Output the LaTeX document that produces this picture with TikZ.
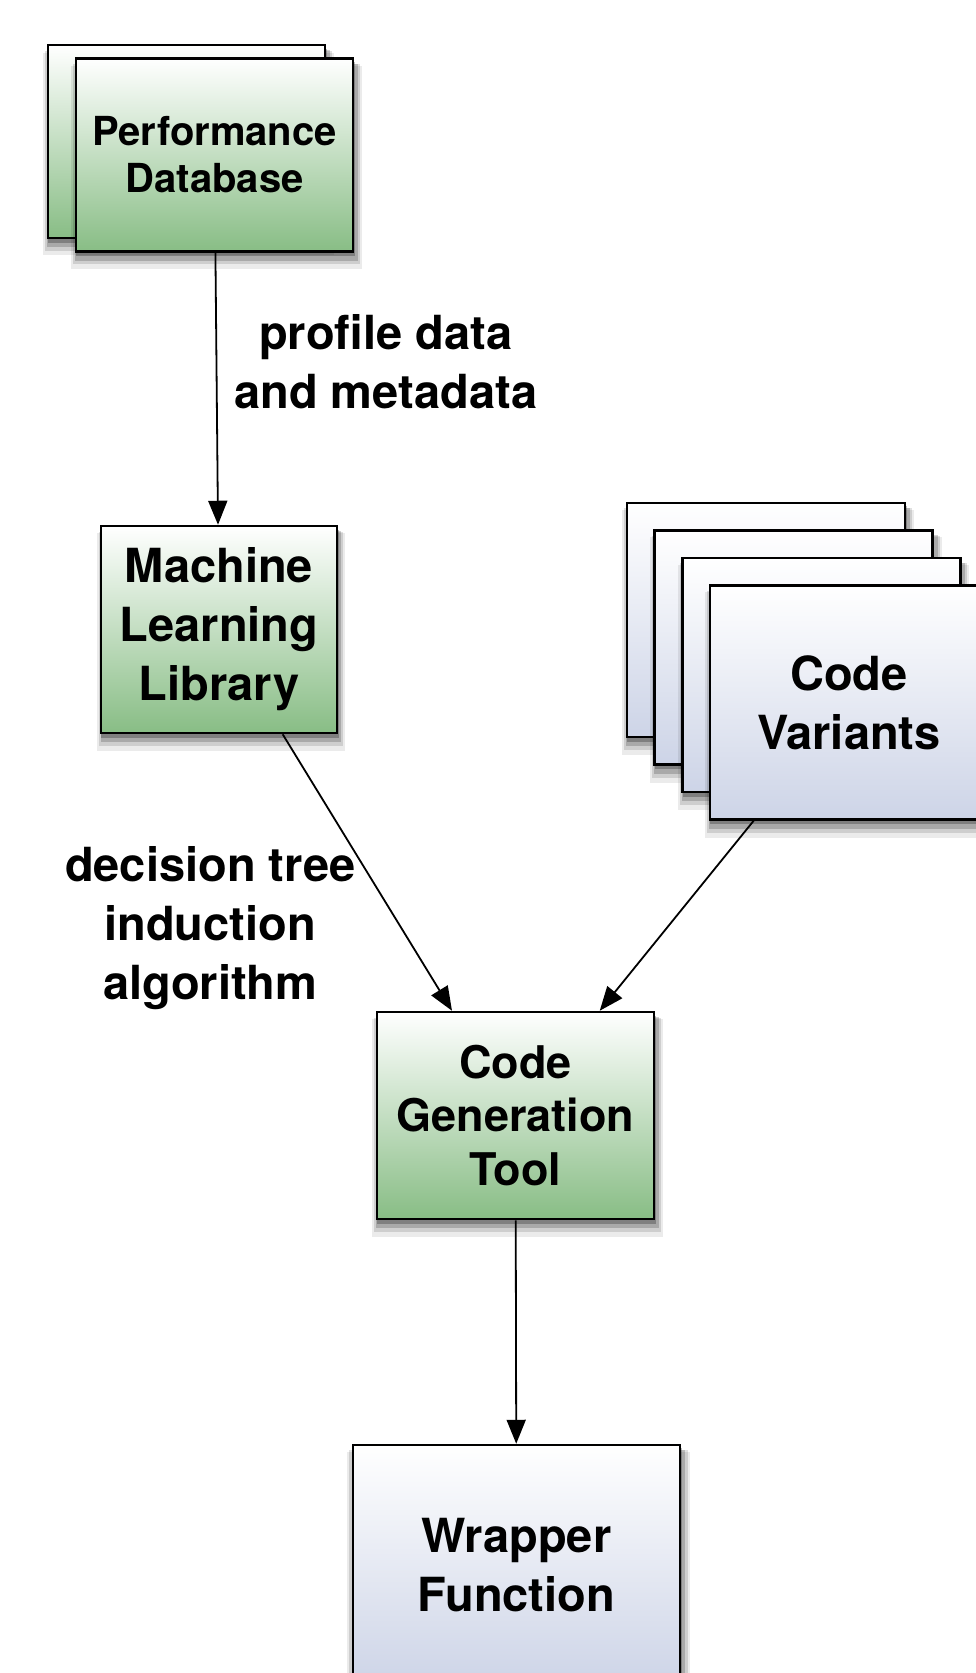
\documentclass[tikz,border=0pt]{standalone}
\usepackage{fontspec}
\setmainfont{TeX Gyre Heros}
\usetikzlibrary{arrows.meta,shadows}

\definecolor{toolgreen}{RGB}{136,189,133}
\definecolor{sheetblue}{RGB}{205,212,231}

\tikzset{
  box/.style={draw=black, line width=2.5pt, inner sep=0pt, align=center,
    font=\bfseries\fontsize{47}{59}\selectfont,
    % soft shadow, built from a few faint layers
    general shadow={shadow xshift=2pt, shadow yshift=-12pt, shadow scale=1.05, fill=black, opacity=.08},
    general shadow={shadow xshift=2pt, shadow yshift=-9pt, shadow scale=1.035, fill=black, opacity=.12},
    general shadow={shadow xshift=2pt, shadow yshift=-7pt, shadow scale=1.02, fill=black, opacity=.18},
    general shadow={shadow xshift=1pt, shadow yshift=-4pt, shadow scale=1.005, fill=black, opacity=.25}},
  tool/.style={box, top color=white, bottom color=toolgreen},
  sheet/.style={box, top color=white, bottom color=sheetblue},
  flow/.style={line width=1.8pt, -{Triangle[length=24pt,width=19pt]}},
  note/.style={inner sep=0pt, align=center, font=\bfseries\fontsize{47}{59}\selectfont}
}

\begin{document}
\begin{tikzpicture}[x=1pt,y=1pt]
    \useasboundingbox (0,0) rectangle (975,-1673);

    % database: two stacked sheets
    \node[tool, minimum width=277pt, minimum height=193pt] (pdbback) at (186.5,-141.5) {};
    \node[tool, minimum width=277pt, minimum height=193pt,
          font=\bfseries\fontsize{40}{47}\selectfont] (pdb) at (214.5,-155) {Performance\\Database};

    \node[tool, minimum width=236pt, minimum height=207pt] (ml) at (219,-629.5) {Machine\\Learning\\Library};

    % variants: three sheets behind the front one
    \foreach \i in {0,1,2}
        \node[sheet, minimum width=278pt, minimum height=234pt] (cvsheet\i) at (766+27.7*\i,-620-27.5*\i) {};
    \node[sheet, minimum width=278pt, minimum height=234pt] (cv) at (849,-702.5) {Code\\Variants};

    \node[tool, minimum width=277pt, minimum height=207pt,
          font=\bfseries\fontsize{45}{53.5}\selectfont] (cgt) at (515.5,-1115.5) {Code\\Generation\\Tool};

    \node[sheet, minimum width=327pt, minimum height=240pt] (wf) at (516.5,-1565) {Wrapper\\Function};

    \draw[flow] (pdb) -- (ml) node[note, pos=0.4, right=17pt] {profile data\\and metadata};
    \draw[flow] (ml) -- (cgt) node[note, pos=0.7, left=45pt] {decision tree\\induction\\algorithm};
    \draw[flow] (cv) -- (cgt);
    \draw[flow] (cgt) -- (wf);
\end{tikzpicture}
\end{document}
